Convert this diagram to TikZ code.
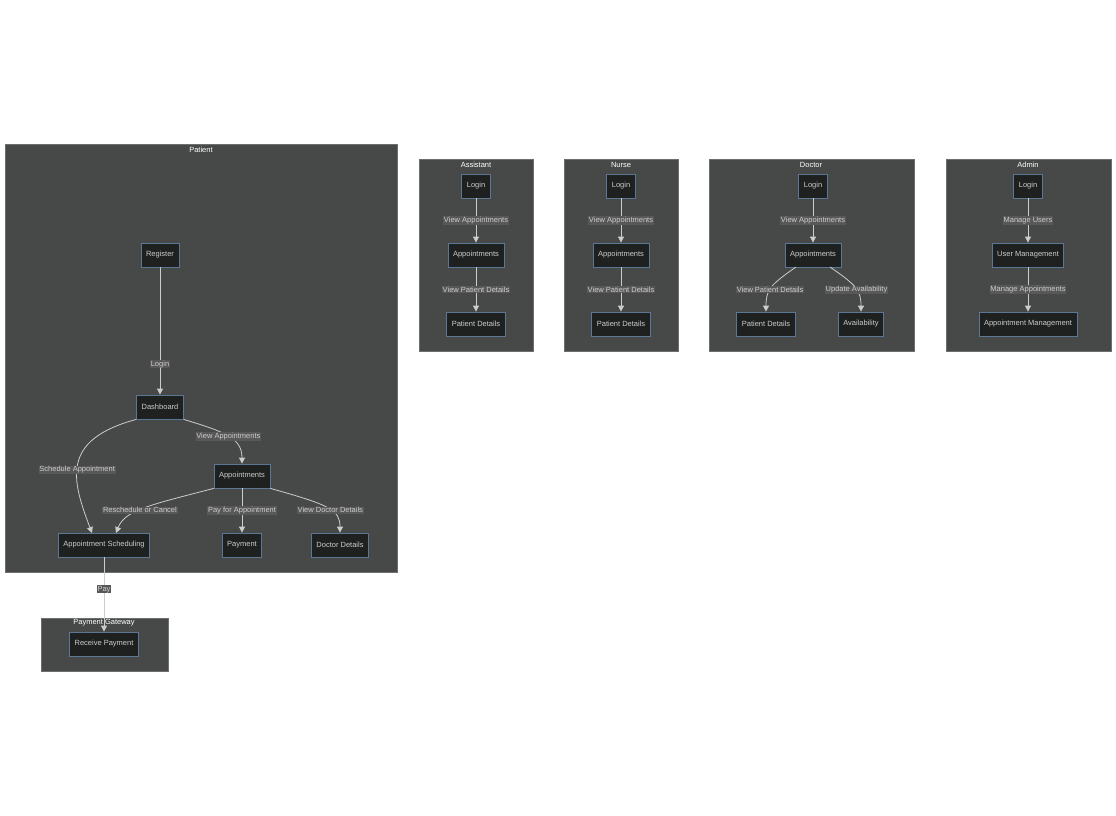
\documentclass[tikz,border=0pt]{standalone}
\usepackage{fontspec}
\setmainfont{Liberation Sans}
\usetikzlibrary{arrows.meta,positioning}
\definecolor{clfill}{HTML}{474949}
\definecolor{clline}{HTML}{6E6E6E}
\definecolor{ndfill}{HTML}{1F2020}
\definecolor{ndline}{HTML}{5C7794}
\definecolor{txt}{HTML}{CCCCCC}
\definecolor{lblbg}{HTML}{585858}
\tikzset{
  cluster/.style={draw=clline, fill=clfill, line width=0.6pt},
  ctitle/.style={text=white, font=\fontsize{7.5}{8}\selectfont, inner sep=0pt},
  box/.style={draw=ndline, fill=ndfill, text=txt, line width=0.8pt, minimum height=24pt,
    inner xsep=5pt, font=\fontsize{7.5}{8}\selectfont},
  lbl/.style={fill=lblbg, text=txt, inner sep=0.8pt, font=\fontsize{7.5}{8}\selectfont},
  link/.style={draw=txt, line width=0.8pt, -{Triangle[length=6pt,width=6pt]}},
}
\begin{document}
\begin{tikzpicture}[x=1pt,y=-1pt]
    \useasboundingbox (0,0) rectangle (1116,816);
    % clusters
    \draw[cluster] (5,144) rectangle (397,572);
    \node[ctitle] (tpatient) at (201,150) {Patient};
    \draw[cluster] (41,618) rectangle (168,671);
    \node[ctitle] (tgateway) at (104,623) {Payment Gateway};
    \draw[cluster] (419,159) rectangle (533,351);
    \node[ctitle] (tassist) at (476,165) {Assistant};
    \draw[cluster] (564,159) rectangle (678,351);
    \node[ctitle] (tnurse) at (621,165) {Nurse};
    \draw[cluster] (709,159) rectangle (914,351);
    \node[ctitle] (tdoctor) at (811,165) {Doctor};
    \draw[cluster] (946,159) rectangle (1111,351);
    \node[ctitle] (tadmin) at (1028,165) {Admin};

    % patient
    \node[box] (register) at (160,255) {Register};
    \node[box] (dashboard) at (160,407) {Dashboard};
    \node[box] (pappts) at (242,476) {Appointments};
    \node[box] (scheduling) at (104,545) {Appointment Scheduling};
    \node[box] (payment) at (242,545) {Payment};
    \node[box] (docdetails) at (340,545) {Doctor Details};
    \node[box] (receive) at (104,644) {Receive Payment};

    \draw[link] (register) -- node[lbl, pos=0.76] {Login} (dashboard);
    \draw[link] (dashboard.south east) .. controls (225,432) and (242,438) .. node[lbl, pos=0.5] {View Appointments} (pappts.north);
    \draw[link] (dashboard.south west) .. controls (60,440) and (72,480) .. node[lbl, pos=0.55] {Schedule Appointment} (92,533);
    \draw[link] (pappts.south west) .. controls (150,505) and (125,510) .. node[lbl, pos=0.55] {Reschedule or Cancel} (116,533);
    \draw[link] (pappts) -- node[lbl] {Pay for Appointment} (payment);
    \draw[link] (pappts.south east) .. controls (330,505) and (340,510) .. node[lbl, pos=0.55] {View Doctor Details} (docdetails.north);
    \draw[link] (scheduling) -- node[lbl, pos=0.43] {Pay} (receive);

    % assistant
    \node[box] (alogin) at (476,186) {Login};
    \node[box] (aappts) at (476,255) {Appointments};
    \node[box] (adetails) at (476,324) {Patient Details};
    \draw[link] (alogin) -- node[lbl] {View Appointments} (aappts);
    \draw[link] (aappts) -- node[lbl] {View Patient Details} (adetails);

    % nurse
    \node[box] (nlogin) at (621,186) {Login};
    \node[box] (nappts) at (621,255) {Appointments};
    \node[box] (ndetails) at (621,324) {Patient Details};
    \draw[link] (nlogin) -- node[lbl] {View Appointments} (nappts);
    \draw[link] (nappts) -- node[lbl] {View Patient Details} (ndetails);

    % doctor
    \node[box] (dlogin) at (813,186) {Login};
    \node[box] (dappts) at (813,255) {Appointments};
    \node[box] (ddetails) at (766,324) {Patient Details};
    \node[box] (avail) at (861,324) {Availability};
    \draw[link] (dlogin) -- node[lbl] {View Appointments} (dappts);
    \draw[link] (796,267) .. controls (770,285) and (766,290) .. node[lbl, pos=0.55] {View Patient Details} (ddetails.north);
    \draw[link] (830,267) .. controls (856,285) and (861,290) .. node[lbl, pos=0.55] {Update Availability} (avail.north);

    % admin
    \node[box] (adlogin) at (1028,186) {Login};
    \node[box] (users) at (1028,255) {User Management};
    \node[box] (apptmgmt) at (1028,324) {Appointment Management};
    \draw[link] (adlogin) -- node[lbl] {Manage Users} (users);
    \draw[link] (users) -- node[lbl] {Manage Appointments} (apptmgmt);
\end{tikzpicture}
\end{document}
